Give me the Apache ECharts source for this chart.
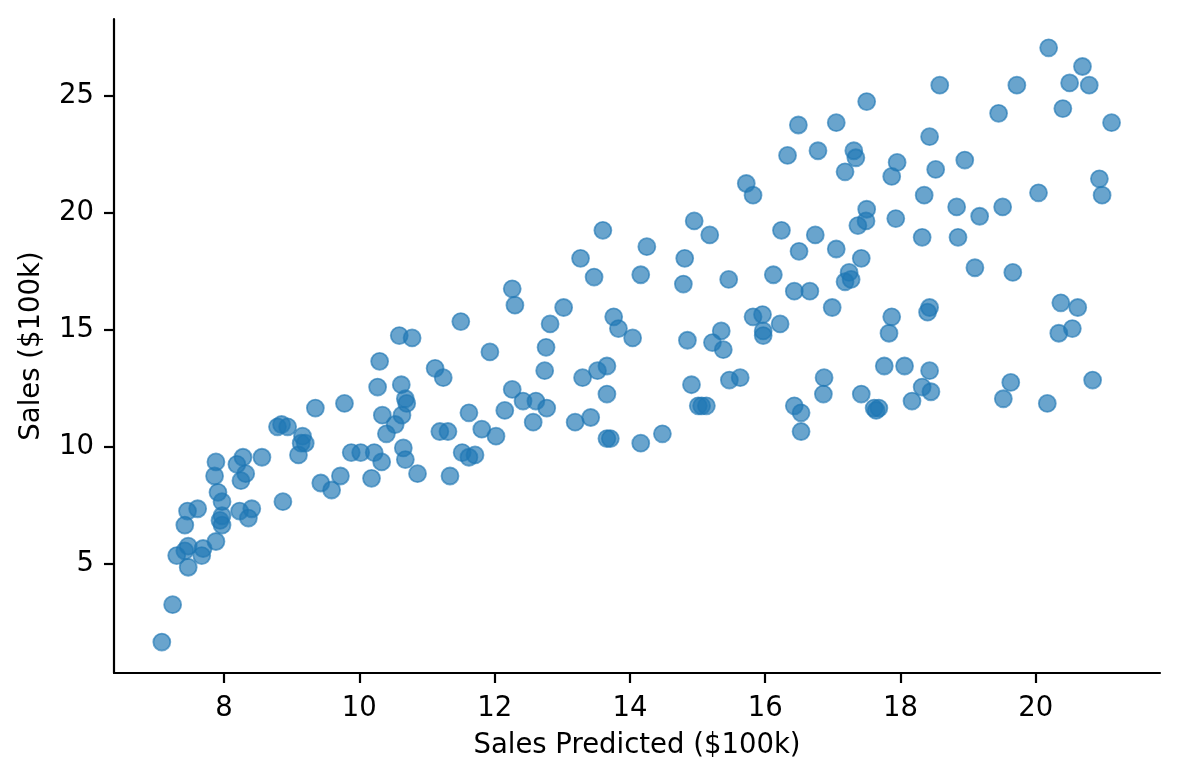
<!DOCTYPE html>
<html>
<head>
<meta charset="utf-8">
<script src="https://cdn.jsdelivr.net/npm/echarts@6/dist/echarts.min.js"></script>
<style>html,body{margin:0;padding:0;background:#fff;}#chart{width:1180px;height:780px;}</style>
</head>
<body>
<div id="chart"></div>
<script>
const salesPredicted = [
7.08,7.24,7.47,7.30,7.42,7.47,7.67,7.69,7.88,7.42,7.46,7.61,7.97,7.94,7.97,7.97,7.91,7.86,7.88,8.23,
8.36,8.41,8.25,8.32,8.19,8.28,8.56,8.87,8.79,8.85,8.94,9.16,9.14,9.20,9.10,9.35,9.78,9.43,9.59,9.72,
9.88,10.02,10.18,10.22,10.33,10.34,10.40,10.53,10.63,10.65,10.68,10.68,10.70,10.62,10.27,10.30,10.59,10.78,10.86,11.12,
11.24,11.50,11.93,11.19,11.31,11.62,11.34,11.52,11.62,11.71,11.81,12.02,12.15,12.26,12.42,12.61,12.77,12.57,12.26,12.30,
12.76,12.74,12.82,13.02,13.60,14.25,13.27,14.95,14.81,14.79,13.47,14.16,13.76,13.83,14.04,14.85,13.30,13.52,13.66,13.66,
14.91,15.01,13.19,13.42,13.66,13.71,14.16,14.48,15.13,15.18,17.50,16.49,17.05,16.33,16.78,17.31,17.34,17.18,17.95,17.87,
15.72,15.82,17.50,17.49,17.37,17.93,16.24,16.74,16.50,17.05,17.42,15.46,16.12,17.24,17.18,17.27,16.43,16.66,16.99,17.87,
17.83,15.35,15.22,15.38,15.82,15.96,16.22,15.97,15.97,17.76,15.47,15.63,15.06,16.87,16.86,16.43,16.53,16.53,17.42,17.61,
17.68,17.64,20.19,20.69,20.50,20.79,19.72,18.58,19.45,20.40,21.12,18.43,18.52,18.95,18.35,20.94,20.98,20.04,18.83,19.17,
19.51,18.32,18.85,19.10,19.66,18.43,18.40,20.37,20.62,20.54,20.34,18.06,18.43,18.32,18.45,18.17,19.63,19.52,20.17,20.84
];
const sales = [
1.65,3.25,4.85,5.35,5.55,5.75,5.35,5.65,5.95,6.65,7.25,7.35,6.65,6.85,7.05,7.65,8.05,8.75,9.35,7.25,
6.95,7.35,8.55,8.85,9.25,9.55,9.55,7.65,10.85,10.95,10.85,10.45,10.15,10.15,9.65,11.65,11.85,8.45,8.15,8.75,
9.75,9.75,8.65,9.75,9.35,11.35,10.55,10.95,11.35,9.95,9.45,12.05,11.85,12.65,12.55,13.65,14.75,14.65,8.85,13.35,
12.95,15.35,14.05,10.65,10.65,11.45,8.75,9.75,9.55,9.65,10.75,10.45,11.55,12.45,11.95,11.95,11.65,11.05,16.75,16.05,
14.25,13.25,15.25,15.95,19.25,18.55,18.05,19.65,18.05,16.95,17.25,17.35,15.55,15.05,14.65,14.55,12.95,13.25,13.45,12.25,
12.65,11.75,11.05,11.25,10.35,10.35,10.15,10.55,11.75,19.05,24.75,23.75,23.85,22.45,22.65,22.65,22.35,21.75,22.15,21.55,
21.25,20.75,20.15,19.65,19.45,19.75,19.25,19.05,18.35,18.45,18.05,17.15,17.35,17.45,17.05,17.15,16.65,16.65,15.95,15.55,
14.85,14.95,14.45,14.15,15.55,15.65,15.25,14.95,14.75,13.45,12.85,12.95,11.75,12.95,12.25,11.75,11.45,10.65,12.25,11.65,
11.65,11.55,27.05,26.25,25.55,25.45,25.45,25.45,24.25,24.45,23.85,23.25,21.85,22.25,20.75,21.45,20.75,20.85,20.25,19.85,
20.25,18.95,18.95,17.65,17.45,15.95,15.75,16.15,15.95,15.05,14.85,13.45,13.25,12.55,12.35,11.95,12.75,12.05,11.85,12.85
];
const xTicks = [8, 10, 12, 14, 16, 18, 20];
const yTicks = [5, 10, 15, 20, 25];
const xLabel = 'Sales Predicted ($100k)';
const yLabel = 'Sales ($100k)';

const points = salesPredicted.map((v, i) => [v, sales[i]]);
const font = 'DejaVu Sans';
const chart = echarts.init(document.getElementById('chart'), null, {renderer: 'canvas'});
const axisCommon = {
  type: 'value',
  splitLine: {show: false},
  axisLine: {show: true, onZero: false, lineStyle: {color: '#000', width: 2.2}},
  axisTick: {show: true, inside: false, length: 10, lineStyle: {color: '#000', width: 2.2}},
  nameLocation: 'middle',
  nameTextStyle: {fontFamily: font, fontSize: 27.5, color: '#000'}
};
chart.setOption({
  animation: false,
  backgroundColor: '#fff',
  grid: {left: 114, right: 20, top: 19, bottom: 107, containLabel: false},
  xAxis: Object.assign({}, axisCommon, {
    min: 6.373, max: 21.836,
    name: xLabel, nameGap: 59,
    axisTick: Object.assign({}, axisCommon.axisTick, {customValues: xTicks}),
    axisLabel: {customValues: xTicks, fontFamily: font, fontSize: 27.5, color: '#000', margin: 22}
  }),
  yAxis: Object.assign({}, axisCommon, {
    min: 0.33, max: 28.28,
    name: yLabel, nameGap: 68,
    axisTick: Object.assign({}, axisCommon.axisTick, {customValues: yTicks}),
    axisLabel: {customValues: yTicks, fontFamily: font, fontSize: 27.5, color: '#000', margin: 20}
  }),
  series: [{
    type: 'scatter',
    data: points,
    symbol: 'circle',
    symbolSize: 17,
    itemStyle: {color: 'rgba(31,119,180,0.84)', borderColor: 'rgba(31,119,180,0.8)', borderWidth: 1.8}
  }]
});
</script>
</body>
</html>
